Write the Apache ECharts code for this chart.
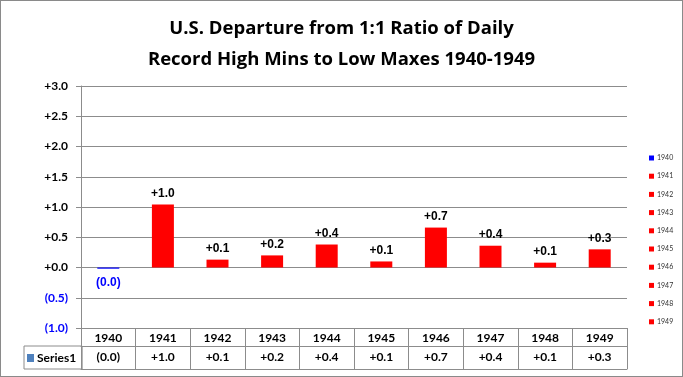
<!DOCTYPE html>
<html>
<head>
<meta charset="utf-8">
<script src="https://cdn.jsdelivr.net/npm/echarts@6/dist/echarts.min.js"></script>
<style>
  html, body { margin: 0; padding: 0; background: #fff; }
  #chart { position: absolute; left: 0; top: 0; width: 683px; height: 377px; }
  #frame { position: absolute; left: 0; top: 0; width: 681px; height: 375px;
           border: 1px solid #8a8a8a; pointer-events: none; }
</style>
</head>
<body>
<div id="chart"></div>
<div id="frame"></div>
<script>
// categories and values
const years = ['1940', '1941', '1942', '1943', '1944', '1945', '1946', '1947', '1948', '1949'];
const departure = [-0.02, 1.04, 0.13, 0.2, 0.38, 0.1, 0.66, 0.36, 0.08, 0.3];
const yTicks = { min: -1, max: 3, step: 0.5 };

const RED = '#ff0000';
const BLUE = '#0000ff';
const GRID_GRAY = '#8c8c8c';
const FONT = 'Lato, "Liberation Sans", sans-serif';
const TITLE_FONT = '"Open Sans", "Liberation Sans", sans-serif';

// Excel style: positive "+1.0", negative "(0.5)"
const fmt = (v) => v < 0 ? '(' + Math.abs(v).toFixed(1) + ')' : '+' + v.toFixed(1);

const chart = echarts.init(document.getElementById('chart'), null, { renderer: 'canvas' });

// one series per year so that each can carry its own legend entry
const yearSeries = years.map((y, i) => ({
  name: y,
  type: 'bar',
  stack: 'all',
  barWidth: 22,
  color: departure[i] < 0 ? BLUE : RED,
  data: years.map((_, j) => (j === i ? departure[i] : '-')),
  label: {
    show: true,
    position: departure[i] < 0 ? 'bottom' : 'top',
    distance: departure[i] < 0 ? 8 : 5,
    formatter: (p) => fmt(p.value),
    color: departure[i] < 0 ? BLUE : '#000',
    fontFamily: '"Liberation Sans", Arial, sans-serif',
    fontSize: 12,
    fontWeight: 'bold',
  },
  emphasis: { disabled: true },
  animation: false,
}));

const tableAxis = (data, offset, labelMargin, showLabel) => ({
  type: 'category',
  data: data,
  position: 'bottom',
  offset: offset,
  axisLine: { show: true, onZero: false, lineStyle: { color: GRID_GRAY } },
  axisTick: { show: false },
  axisLabel: {
    show: showLabel, interval: 0, margin: labelMargin,
    fontFamily: FONT, fontSize: 12, fontWeight: 'bold', color: '#000',
  },
});

chart.setOption({
  animation: false,
  backgroundColor: '#fff',
  title: {
    text: 'U.S. Departure from 1:1 Ratio of Daily\nRecord High Mins to Low Maxes 1940-1949',
    left: 'center',
    top: 8,
    textStyle: {
      fontFamily: TITLE_FONT,
      fontSize: 18.5,
      fontWeight: 'bold',
      lineHeight: 31,
      color: '#000',
    },
  },
  legend: [
    {
      data: years,
      orient: 'vertical',
      left: 644,
      top: 149,
      icon: 'rect',
      itemWidth: 5,
      itemHeight: 5,
      itemGap: 10.2,
      selectedMode: false,
      textStyle: { fontFamily: FONT, fontSize: 7, lineHeight: 8, color: '#333', padding: [0, 0, 0, -2] },
    },
    {
      data: [{ name: 'Series1', icon: 'rect' }],
      left: 24,
      top: 346,
      padding: [5, 6, 4, 3],
      itemWidth: 7,
      itemHeight: 8,
      borderColor: GRID_GRAY,
      borderWidth: 1,
      borderRadius: 0,
      selectedMode: false,
      textStyle: { fontFamily: FONT, fontSize: 12, fontWeight: 'bold', lineHeight: 14, color: '#000', padding: [0, 0, 0, -2] },
    },
  ],
  grid: { left: 81, right: 56, top: 86, bottom: 49 },
  xAxis: [
    {
      type: 'category',
      data: years,
      position: 'bottom',
      axisLine: { show: true, onZero: false, lineStyle: { color: GRID_GRAY } },
      axisTick: { show: true, interval: 0, length: 41, lineStyle: { color: GRID_GRAY } },
      axisLabel: { interval: 0, margin: 4, fontFamily: FONT, fontSize: 12, fontWeight: 'bold', color: '#000' },
    },
    tableAxis(departure.map(fmt), 18, 5, true),
    tableAxis(years, 41, 0, false),
  ],
  yAxis: {
    type: 'value',
    min: yTicks.min,
    max: yTicks.max,
    interval: yTicks.step,
    axisLine: { show: true, lineStyle: { color: GRID_GRAY } },
    axisTick: { show: true, length: 5, lineStyle: { color: GRID_GRAY } },
    splitLine: { show: true, lineStyle: { color: GRID_GRAY, width: 1 } },
    axisLabel: {
      margin: 13,
      formatter: (v) => (v < 0 ? '{neg|' + fmt(v) + '}' : '{pos|' + fmt(v) + '}'),
      rich: {
        pos: { fontFamily: FONT, fontSize: 12, fontWeight: 'bold', color: '#000' },
        neg: { fontFamily: FONT, fontSize: 12, fontWeight: 'bold', color: BLUE },
      },
    },
  },
  series: [
    ...yearSeries,
    {
      name: 'Series1',
      type: 'bar',
      stack: 'all',
      color: '#4f81bd',
      data: years.map(() => '-'),
    },
  ],
});
</script>
</body>
</html>
